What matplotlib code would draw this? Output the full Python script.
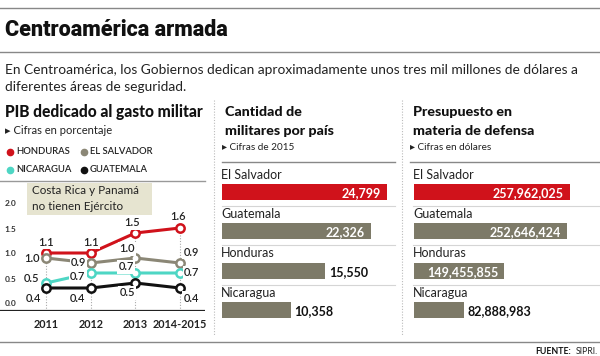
import matplotlib
matplotlib.use("Agg")
import matplotlib.pyplot as plt
from matplotlib.lines import Line2D
from matplotlib.patches import Rectangle

plt.rcParams['font.family'] = ['Lato', 'DejaVu Sans']

# --- datos ---
years = ['2011', '2012', '2013', '2014-2015']
honduras = [1.1, 1.1, 1.5, 1.6]
el_salvador = [1.0, 0.9, 1.0, 0.9]
nicaragua = [0.5, 0.7, 0.7, 0.7]
guatemala = [0.4, 0.4, 0.5, 0.4]

paises = ['El Salvador', 'Guatemala', 'Honduras', 'Nicaragua']
militares = [24799, 22326, 15550, 10358]
presupuesto = [257962025, 252646424, 149455855, 82888983]

RED = '#d0121b'
GRAY = '#8b8776'
BAR_GRAY = '#7d7a68'
TEAL = '#4ed6c4'
BLACK = '#111111'

W, H = 600, 356
fig = plt.figure(figsize=(6, 3.56), dpi=100)


def fx(x):
    return x / W


def fy(y):
    return 1 - y / H


def txt(x, y, s, **kw):
    kw.setdefault('va', 'center')
    return fig.text(fx(x), fy(y), s, **kw)


def hline(x0, x1, y, **kw):
    fig.add_artist(Line2D([fx(x0), fx(x1)], [fy(y), fy(y)], transform=fig.transFigure, **kw))


def vline(x, y0, y1, **kw):
    fig.add_artist(Line2D([fx(x), fx(x)], [fy(y0), fy(y1)], transform=fig.transFigure, **kw))


def px_axes(x0, y0, x1, y1):
    ax = fig.add_axes([fx(x0), fy(y1), (x1 - x0) / W, (y1 - y0) / H])
    ax.set_axis_off()
    return ax


# --- cabecera ---
hline(0, 600, 8, color='#888888', lw=1)
txt(5, 30, 'Centroamérica armada', fontsize=15.5, fontweight='black', color='#111111',
    family=['Roboto', 'Lato', 'DejaVu Sans'])
hline(0, 600, 52, color='#888888', lw=1)
txt(5, 70, 'En Centroamérica, los Gobiernos dedican aproximadamente unos tres mil millones de dólares a',
    fontsize=9.9, color='#222222')
txt(5, 87, 'diferentes áreas de seguridad.', fontsize=9.9, color='#222222')

# separadores verticales
vline(214, 100, 335, color='#bbbbbb', lw=0.8, ls=(0, (1, 1.5)))
vline(402, 100, 335, color='#bbbbbb', lw=0.8, ls=(0, (1, 1.5)))

# --- panel 1: PIB ---
txt(5, 112, 'PIB dedicado al gasto militar', fontsize=11.2, fontweight='black', color='#111111')
txt(5, 131, '▸ Cifras en porcentaje', fontsize=8, color='#222222')

legend = [('HONDURAS', RED, 10, 152), ('EL SALVADOR', GRAY, 84, 152),
          ('NICARAGUA', TEAL, 10, 170), ('GUATEMALA', BLACK, 84, 170)]
for name, c, lx, ly in legend:
    fig.add_artist(Line2D([fx(lx)], [fy(ly)], marker='o', color=c, markersize=4.5,
                          transform=fig.transFigure))
    txt(lx + 6, ly, name, fontsize=6.8, fontweight='semibold', color='#222222')
hline(0, 205, 181, color='#999999', lw=1)

ax1 = px_axes(0, 183, 205, 310.5)
ax1.set_xlim(-1.03, 3.56)
ax1.set_ylim(-0.05, 2.5)
xs = list(range(len(years)))

for i in xs:
    ax1.plot([i, i], [-0.05, honduras[i]], color='#aaaaaa', lw=0.8, ls=(0, (1, 1.5)), zorder=1)

for v in [0.0, 0.5, 1.0, 1.5, 2.0]:
    ax1.text(-0.93, v + 0.08, f'{v:.1f}', fontsize=6, fontweight='bold', color='#333333',
             ha='left', va='center')

series = [
    (honduras, RED, [(0, 11), (0, 11), (-3, 10), (-2, 12)]),
    (el_salvador, GRAY, [(-14, 0), (-12, 0), (-8, 9), (11, 11)]),
    (nicaragua, TEAL, [(-15, 5), (-13, -3), (-9, 6), (12, 0)]),
    (guatemala, BLACK, [(-13, -10), (-13, -10), (-8, -10), (11, -10)]),
]
for vals, c, offs in series:
    ax1.plot(xs, vals, color=c, lw=2.2, marker='o', markersize=6, mfc='white', mec=c, mew=1.8,
             zorder=3, clip_on=False)
for vals, c, offs in series:
    for i, v in enumerate(vals):
        ax1.annotate(f'{v:.1f}', (i, v), xytext=offs[i], textcoords='offset pixels',
                     ha='center', va='center', fontsize=8, fontweight='semibold', color='#222222',
                     bbox=dict(boxstyle='square,pad=0.1', fc='white', ec='none'), zorder=4)

ax1.axhline(-0.05, color='#222222', lw=1.6)
for i, y in enumerate(years):
    ax1.text(i, -0.33, y, fontsize=7.8, fontweight='bold', color='#222222', ha='center', va='center')

# nota
fig.add_artist(Rectangle((fx(27), fy(215)), 125 / W, 32 / H, transform=fig.transFigure,
                         fc='#e6e4d0', ec='none', zorder=5))
txt(32, 191, 'Costa Rica y Panamá', fontsize=8.4, color='#222222', zorder=6)
txt(32, 206, 'no tienen Ejército', fontsize=8.4, color='#222222', zorder=6)


# --- paneles de barras ---
def bar_panel(x0, x1, bar_x0, px_scale_ref, values, title1, title2, sub, inside, line_x0, sep_x0):
    txt(x0 + 3, 112, title1, fontsize=10.3, fontweight='black', color='#111111')
    txt(x0 + 3, 131, title2, fontsize=10.3, fontweight='black', color='#111111')
    txt(x0, 148, sub, fontsize=7.2, color='#222222')
    hline(line_x0, x1, 162, color='#888888', lw=1)
    for y in [206, 245, 285]:
        hline(sep_x0, x1, y, color='#d5d5d5', lw=0.8)

    ax = px_axes(bar_x0, 162, x1, 335)
    maxv = max(values)
    ax.set_xlim(0, maxv * (x1 - bar_x0) / px_scale_ref)
    ax.set_ylim(3.64, -0.763)
    ys = list(range(len(values)))
    colors = [RED] + [BAR_GRAY] * (len(values) - 1)
    ax.barh(ys, values, height=0.41, color=colors)
    pad = maxv * 6 / px_scale_ref
    for i, v in enumerate(values):
        ax.text(-maxv * 1 / px_scale_ref, i - 0.44, paises[i], fontsize=9, color='#222222',
                ha='left', va='center')
        if inside[i]:
            ax.text(v - pad, i + 0.03, f'{v:,}', fontsize=9, fontweight='bold', color='white',
                    ha='right', va='center')
        else:
            ax.text(v + pad * 0.6, i + 0.03, f'{v:,}', fontsize=9, fontweight='bold', color='#111111',
                    ha='left', va='center')


bar_panel(222, 395, 222, 165, militares, 'Cantidad de', 'militares por país', '▸ Cifras de 2015',
          [True, True, False, False], 222, 222)
bar_panel(410, 600, 414, 156, presupuesto, 'Presupuesto en', 'materia de defensa',
          '▸ Cifras en dólares', [True, True, True, False], 410, 413)

# --- pie ---
hline(0, 600, 342, color='#888888', lw=1)
txt(571, 352, 'FUENTE:', fontsize=6.3, fontweight='bold', color='#111111', ha='right')
txt(598, 352, 'SIPRI.', fontsize=6.3, color='#222222', ha='right')

fig.savefig('out.png', dpi=100)
